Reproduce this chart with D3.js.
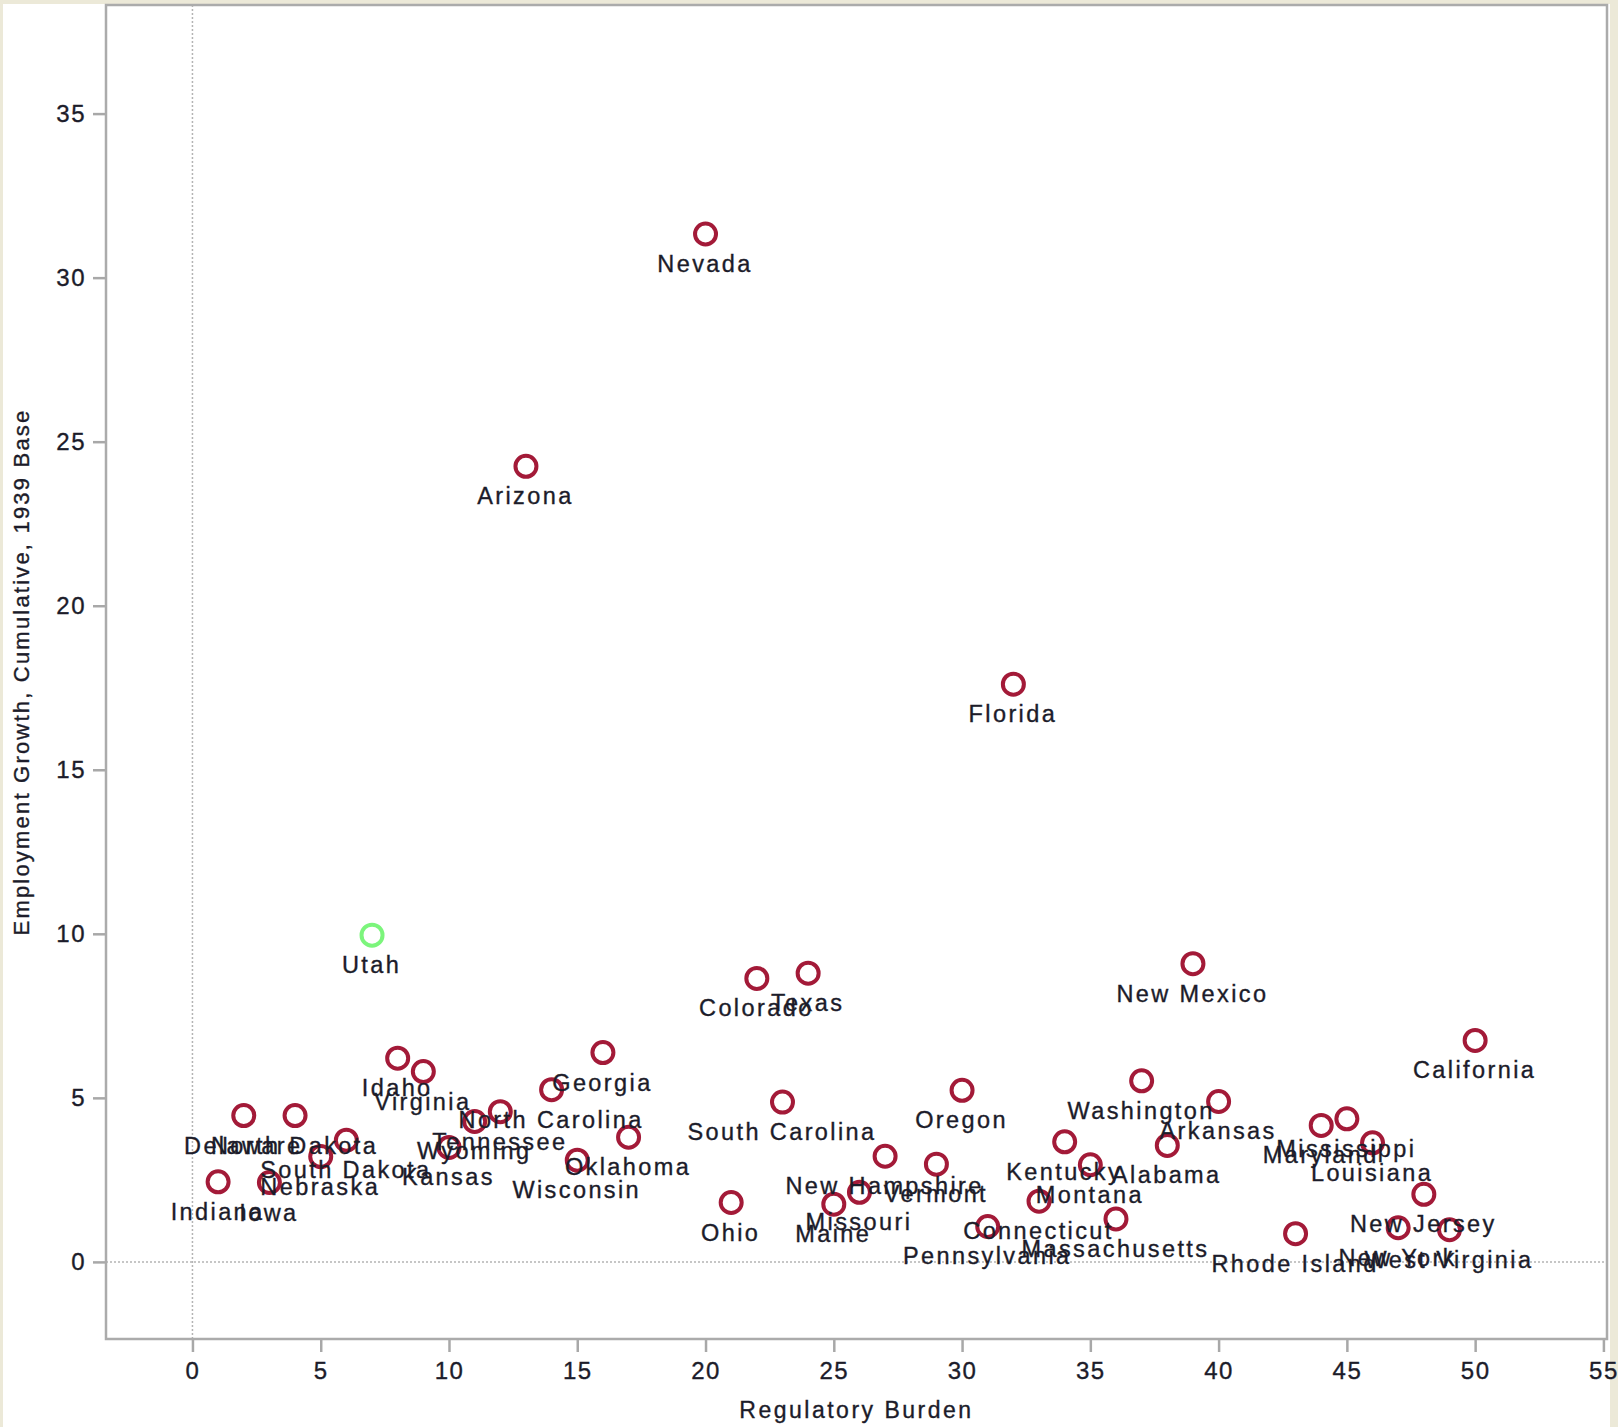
<!DOCTYPE html>
<html>
<head>
<meta charset="utf-8">
<script src="https://cdn.jsdelivr.net/npm/d3@7"></script>
<style>
  html, body { margin: 0; padding: 0; background: #ECE9D8; }
  svg { display: block; }
</style>
</head>
<body>
<svg id="chart" width="1618" height="1427"></svg>
<script>
// ---- data ----
const states = ["Indiana","Delaware","Iowa","North Dakota","Nebraska","South Dakota","Utah","Idaho","Virginia","Kansas",
  "Wyoming","Tennessee","Arizona","North Carolina","Wisconsin","Georgia","Oklahoma","Nevada","Ohio","Colorado",
  "South Carolina","Texas","Maine","Missouri","New Hampshire","Vermont","Oregon","Pennsylvania","Florida","Connecticut",
  "Kentucky","Montana","Massachusetts","Washington","Alabama","New Mexico","Arkansas","Rhode Island","Maryland","Mississippi",
  "Louisiana","New York","New Jersey","West Virginia","California"];
const burden = [1,2,3,4,5,6,7,8,9,10,
  11,12,13,14,15,16,17,20,21,22,
  23,24,25,26,27,29,30,31,32,33,
  34,35,36,37,38,39,40,43,44,45,
  46,47,48,49,50];
const growth = [2.44,4.46,2.42,4.46,3.21,3.71,9.96,6.21,5.80,3.49,
  4.28,4.58,24.25,5.25,3.10,6.38,3.80,31.33,1.81,8.64,
  4.87,8.80,1.76,2.12,3.22,2.98,5.23,1.08,17.61,1.85,
  3.66,2.96,1.31,5.52,3.55,9.09,4.89,0.86,4.16,4.36,
  3.63,1.04,2.06,0.98,6.75];
const highlight = ["Utah"];
const xTicks = [0,5,10,15,20,25,30,35,40,45,50,55];
const yTicks = [0,5,10,15,20,25,30,35];
const xTitle = "Regulatory Burden";
const yTitle = "Employment Growth, Cumulative, 1939 Base";

// ---- layout ----
const L = 106, R = 1607, T = 5, B = 1339;
const svg = d3.select("#chart");
svg.append("rect").attr("x", 3).attr("y", 4).attr("width", 1607).attr("height", 1423).attr("fill", "#ffffff");

const x = d3.scaleLinear().domain([-3.37, 55.14]).range([L, R]);
const y = d3.scaleLinear().domain([-2.35, 38.31]).range([B, T]);

const font = "'Liberation Sans', Arial, sans-serif";
const textColor = "#1c1c2a";

// zero reference lines
svg.append("line").attr("x1", x(0)).attr("x2", x(0)).attr("y1", T).attr("y2", B)
  .attr("stroke", "#b4b4b4").attr("stroke-width", 1.5).attr("stroke-dasharray", "2,2");
svg.append("line").attr("x1", L).attr("x2", R).attr("y1", y(0)).attr("y2", y(0))
  .attr("stroke", "#b4b4b4").attr("stroke-width", 1.5).attr("stroke-dasharray", "2,2");

// axes
const xAxis = svg.append("g").attr("transform", `translate(0,${B})`)
  .call(d3.axisBottom(x).tickValues(xTicks).tickSize(13).tickPadding(10).tickFormat(d3.format("d")));
const yAxis = svg.append("g").attr("transform", `translate(${L},0)`)
  .call(d3.axisLeft(y).tickValues(yTicks).tickSize(13).tickPadding(7).tickFormat(d3.format("d")));
[xAxis, yAxis].forEach(g => {
  g.select(".domain").remove();
  g.selectAll(".tick line").attr("stroke", "#a8a8a8").attr("stroke-width", 2.5);
  g.selectAll(".tick text").attr("fill", textColor).attr("stroke", textColor).attr("stroke-width", 0.35)
    .style("font-family", font).style("font-size", "24px").style("letter-spacing", "1.5px");
});

// frame
svg.append("rect").attr("x", L).attr("y", T).attr("width", R - L).attr("height", B - T)
  .attr("fill", "none").attr("stroke", "#ababab").attr("stroke-width", 2.5);

// titles
svg.append("text").attr("x", (L + R) / 2).attr("y", 1418).attr("text-anchor", "middle")
  .attr("fill", textColor).attr("stroke", textColor).attr("stroke-width", 0.35)
  .style("font-family", font).style("font-size", "23px").style("letter-spacing", "2.5px")
  .text(xTitle);
svg.append("text").attr("transform", `translate(29,${(T + B) / 2}) rotate(-90)`).attr("text-anchor", "middle")
  .attr("fill", textColor).attr("stroke", textColor).attr("stroke-width", 0.35)
  .style("font-family", font).style("font-size", "22px").style("letter-spacing", "2.2px")
  .text(yTitle);

// points
const data = states.map((s, i) => ({ s, b: burden[i], g: growth[i] }));
svg.append("g").selectAll("circle").data(data).join("circle")
  .attr("cx", d => x(d.b)).attr("cy", d => y(d.g)).attr("r", 10.5)
  .attr("fill", "none")
  .attr("stroke", d => highlight.includes(d.s) ? "#7cf57c" : "#a31a38")
  .attr("stroke-width", 4);

// labels
svg.append("g").selectAll("text").data(data).join("text")
  .attr("x", d => x(d.b) - 0.5).attr("y", d => y(d.g) + 38)
  .attr("text-anchor", "middle").attr("fill", textColor)
  .attr("stroke", textColor).attr("stroke-width", 0.35)
  .style("font-family", font).style("font-size", "23.5px").style("letter-spacing", "2.4px")
  .text(d => d.s);
</script>
</body>
</html>
